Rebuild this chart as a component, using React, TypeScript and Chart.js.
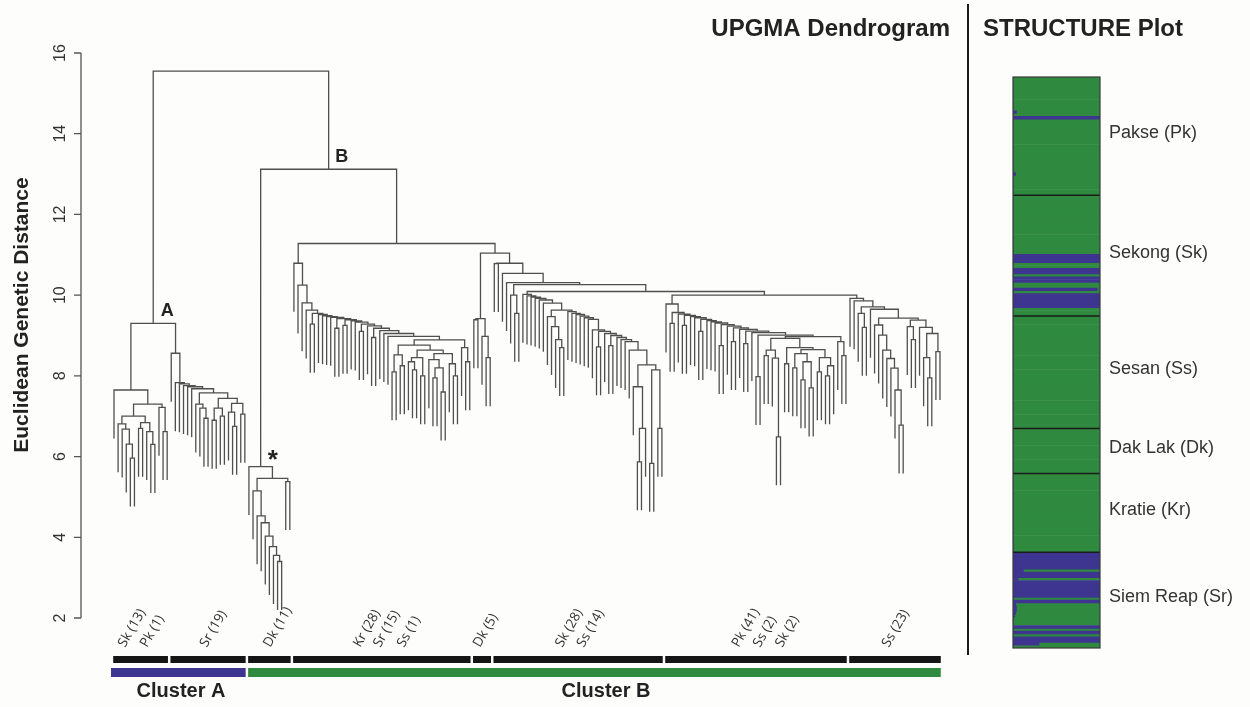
import React, { useEffect, useRef } from 'react';
import { Chart, registerables } from 'chart.js';
Chart.register(...registerables);

const FONT = '"Liberation Sans", Arial, Helvetica, sans-serif';
const LEAF_FONT = '"Open Sans", "Liberation Sans", sans-serif';

// ---------- Dendrogram data: merge height between consecutive leaves (leaf order) ----------
const gapsSkPk = [7.65, 6.81, 6.68, 6.31, 5.96, 7.0, 6.7, 6.84, 6.62, 6.3, 7.3, 7.22, 6.62];
const gapsSr19 = [8.56, 7.83, 7.8, 7.76, 7.73, 7.68, 7.3, 7.2, 6.95, 7.58, 6.9, 7.2, 7.0, 7.44, 7.1, 6.75, 7.32, 7.05];
const gapsDk11 = [5.75, 5.15, 4.53, 4.36, 4.03, 3.77, 3.55, 3.4, 5.46, 5.38];
const gapsKrSrSs = [10.79, 10.25, 9.81, 9.63, 9.28, 9.55, 9.52, 9.49, 9.47, 9.45, 9.18, 9.42, 9.25, 9.39, 9.36, 9.33, 9.1, 9.28, 9.24, 8.95, 9.18, 9.12, 9.05, 8.98,
  8.1, 8.52, 8.25, 8.76, 8.35, 8.15, 8.45, 8.0, 8.64, 8.4, 7.95, 8.2, 7.6, 8.55, 8.3, 8.0, 8.89, 8.7, 8.35];
const gapsDk5 = [9.39, 9.42, 8.98, 8.45];
const gapsSkSs = [10.78, 10.79, 10.54, 10.31, 10.0, 9.55, 10.26,
  10.02, 9.98, 9.95, 9.92, 9.88, 9.8, 9.47, 9.22, 8.9, 8.7, 9.63, 9.59, 9.55, 9.52, 9.48, 9.44, 9.4,
  9.14, 8.72, 9.1, 9.05, 8.75, 9.0, 8.95, 8.9, 8.85, 8.64, 7.73, 5.87, 6.7, 8.27, 5.83, 8.15, 6.7];
const gapsPk = [9.78, 9.3, 9.57, 9.53, 9.25, 9.5, 9.47, 9.44, 9.1, 9.4, 9.37, 9.34, 9.31, 8.75, 9.27, 9.23, 8.85, 9.19, 9.15, 8.8, 9.11, 9.07, 7.98, 9.01,
  8.5, 8.64, 8.44, 6.49, 8.93, 8.3, 8.7, 8.2, 8.55, 7.9, 8.35, 7.7, 8.65, 8.1, 8.45, 8.0, 8.25, 8.97, 8.85, 8.5];
const gapsSs23 = [9.92, 9.86, 9.55, 9.2, 9.71, 9.65, 9.26, 9.01, 8.64, 8.43, 8.19, 7.65, 6.78, 9.43, 9.22, 8.9, 9.38, 9.2, 8.45, 7.95, 9.05, 8.6];
const groupJoins = [9.3, 15.55, 13.12, 11.28, 11.04, 10.09, 10.0];
const hang = 1.2;
const yTicks = [2, 4, 6, 8, 10, 12, 14, 16];
const leafLabels = ['Sk (13)', 'Pk (1)', 'Sr (19)', 'Dk (11)', 'Kr (28)', 'Sr (15)', 'Ss (1)', 'Dk (5)', 'Sk (28)', 'Ss (14)', 'Pk (41)', 'Ss (2)', 'Sk (2)', 'Ss (23)'];

// ---------- STRUCTURE plot data (blue membership per individual) ----------
const populations = ['Pakse (Pk)', 'Sekong (Sk)', 'Sesan (Ss)', 'Dak Lak (Dk)', 'Kratie (Kr)', 'Siem Reap (Sr)'];
const pkBlue = [0, 0, 0, 0, 0, 0, 0, 0, 0, 0, 0, 0, 0.04, 0, 1, 0, 0, 0, 0, 0, 0, 0, 0, 0, 0, 0, 0, 0, 0, 0, 0, 0, 0, 0, 0.03, 0, 0, 0, 0, 0, 0, 0];
const skBlue = [0, 0, 0, 0, 0, 0, 0, 0, 0, 0, 0, 0, 0, 0, 0, 0, 0, 0, 0, 0, 0, 1, 1, 1, 0, 0, 1, 1, 0, 1, 1, 0, 0, 0.97, 0, 1, 1, 1, 1, 1, 0, 0, 0];
const ssBlue = [0, 0, 0, 0, 0, 0, 0, 0, 0, 0, 0, 0, 0, 0, 0, 0, 0, 0, 0, 0, 0, 0, 0, 0, 0, 0, 0, 0, 0, 0, 0, 0, 0, 0, 0, 0, 0, 0, 0, 0];
const dkBlue = [0, 0, 0, 0, 0, 0, 0, 0, 0, 0, 0, 0, 0, 0, 0, 0];
const krBlue = [0, 0, 0, 0, 0, 0, 0, 0, 0, 0, 0, 0, 0, 0, 0, 0, 0, 0, 0, 0, 0, 0, 0, 0, 0, 0, 0, 0];
const srBlue = [1, 1, 1, 1, 1, 1, 0.12, 1, 1, 0.06, 1, 1, 1, 1, 1, 1, 0, 1, 0.03, 0.04, 0.04, 0.03, 0.02, 0, 0, 0, 1, 0, 1, 0, 1, 1, 0.3, 0];

// ---------- layout constants ----------
const LEAF_X0 = 114;      // pixel of first leaf
const LEAF_DX = 4.089;    // pixel per leaf
const labelLeafPos = [2.7, 8.1, 22.7, 38.2, 60.2, 65.1, 70.9, 89.5, 109.6, 114.9, 152.8, 158, 163.4, 189.5];
const GREEN = '#2f8a3f';
const BLUE = '#3d3590';
const LINE = '#4f4f4f';

type TNode = { x: number; h: number | null; left?: TNode; right?: TNode };

function buildTree() {
  const groups = [gapsSkPk, gapsSr19, gapsDk11, gapsKrSrSs, gapsDk5, gapsSkSs, gapsPk, gapsSs23];
  const gaps: number[] = [];
  const starts: number[] = [];
  let leaf = 0;
  groups.forEach((g, i) => {
    starts.push(leaf);
    gaps.push(...g);
    leaf += g.length + 1;
    if (i < groupJoins.length) gaps.push(groupJoins[i]);
  });
  const counts = groups.map((g) => g.length + 1);
  const pts: { x: number; y: number | null }[] = [];
  const build = (lo: number, hi: number): TNode => {
    if (lo === hi) return { x: lo, h: null };
    let k = lo;
    for (let i = lo; i < hi; i++) if (gaps[i] > gaps[k]) k = i;
    const L = build(lo, k);
    const R = build(k + 1, hi);
    const H = gaps[k];
    const lb = L.h === null ? H - hang : L.h;
    const rb = R.h === null ? H - hang : R.h;
    pts.push({ x: L.x, y: lb }, { x: L.x, y: H }, { x: R.x, y: H }, { x: R.x, y: rb }, { x: R.x, y: null });
    return { x: (L.x + R.x) / 2, h: H, left: L, right: R };
  };
  const root = build(0, gaps.length);
  return { root, pts, starts, counts, n: gaps.length + 1 };
}

export default function App() {
  const c1 = useRef<HTMLCanvasElement>(null);
  const c2 = useRef<HTMLCanvasElement>(null);

  useEffect(() => {
    const { root, pts, starts, counts } = buildTree();
    const nodeA = root.left!;
    const nodeB = root.right!;
    const nodeStar = nodeB.left!;
    const xmin = (81 - LEAF_X0) / LEAF_DX;
    const xmax = (960 - LEAF_X0) / LEAF_DX;

    const dendroPlugin = {
      id: 'dendroDecor',
      afterDraw(chart: any) {
        const ctx = chart.ctx as CanvasRenderingContext2D;
        const xs = chart.scales.x;
        const ys = chart.scales.y;
        const axX = chart.chartArea.left;
        ctx.save();
        // y axis
        ctx.strokeStyle = '#555';
        ctx.lineWidth = 1.3;
        ctx.beginPath();
        ctx.moveTo(axX, ys.getPixelForValue(2));
        ctx.lineTo(axX, ys.getPixelForValue(16));
        yTicks.forEach((t) => {
          const y = ys.getPixelForValue(t);
          ctx.moveTo(axX, y);
          ctx.lineTo(axX - 7, y);
        });
        ctx.stroke();
        ctx.fillStyle = '#333';
        ctx.font = `16px ${FONT}`;
        ctx.textAlign = 'center';
        ctx.textBaseline = 'middle';
        yTicks.forEach((t) => {
          ctx.save();
          ctx.translate(61, ys.getPixelForValue(t));
          ctx.rotate(-Math.PI / 2);
          ctx.fillText(String(t), 0, 0);
          ctx.restore();
        });
        // axis title
        ctx.save();
        ctx.translate(22, 315);
        ctx.rotate(-Math.PI / 2);
        ctx.font = `bold 21px ${FONT}`;
        ctx.fillStyle = '#222';
        ctx.fillText('Euclidean Genetic Distance', 0, 0);
        ctx.restore();
        // node labels
        ctx.fillStyle = '#222';
        ctx.font = `bold 18px ${FONT}`;
        ctx.fillText('A', xs.getPixelForValue(nodeA.x) + 14, ys.getPixelForValue(nodeA.h!) - 12);
        ctx.fillText('B', xs.getPixelForValue(nodeB.x) + 13, ys.getPixelForValue(nodeB.h!) - 12);
        ctx.font = `bold 26px ${FONT}`;
        ctx.fillText('*', xs.getPixelForValue(nodeStar.x) + 12, ys.getPixelForValue(nodeStar.h!) - 6);
        // leaf group labels
        ctx.font = `13.5px ${LEAF_FONT}`;
        ctx.fillStyle = '#333';
        ctx.textAlign = 'left';
        ctx.textBaseline = 'alphabetic';
        leafLabels.forEach((lab, i) => {
          ctx.save();
          ctx.translate(xs.getPixelForValue(labelLeafPos[i]), 648);
          ctx.rotate(-Math.PI / 3);
          ctx.fillText(lab, 0, 0);
          ctx.restore();
        });
        // black group bars
        ctx.fillStyle = '#151515';
        starts.forEach((s, i) => {
          const x0 = xs.getPixelForValue(s) - 0.8;
          const x1 = xs.getPixelForValue(s + counts[i] - 1) + 0.8;
          ctx.fillRect(x0, 656, x1 - x0, 7);
        });
        // cluster bars
        const clA0 = xs.getPixelForValue(starts[0]) - 3;
        const clA1 = xs.getPixelForValue(starts[1] + counts[1] - 1) + 0.8;
        const clB0 = xs.getPixelForValue(starts[2]) - 0.8;
        const clB1 = xs.getPixelForValue(starts[7] + counts[7] - 1) + 0.8;
        ctx.fillStyle = BLUE;
        ctx.fillRect(clA0, 668, clA1 - clA0, 9);
        ctx.fillStyle = GREEN;
        ctx.fillRect(clB0, 668, clB1 - clB0, 9);
        ctx.fillStyle = '#222';
        ctx.font = `bold 20px ${FONT}`;
        ctx.textAlign = 'center';
        ctx.textBaseline = 'middle';
        ctx.fillText('Cluster A', 181, 691);
        ctx.fillText('Cluster B', 606, 691);
        // title & separator
        ctx.font = `bold 24px ${FONT}`;
        ctx.textAlign = 'right';
        ctx.fillText('UPGMA Dendrogram', 950, 29);
        ctx.strokeStyle = '#1a1a1a';
        ctx.lineWidth = 2;
        ctx.beginPath();
        ctx.moveTo(968, 4);
        ctx.lineTo(968, 655);
        ctx.stroke();
        ctx.restore();
      },
    };

    const chart1 = new Chart(c1.current!, {
      type: 'scatter',
      data: {
        datasets: [
          {
            data: pts as any,
            showLine: true,
            spanGaps: false,
            borderColor: LINE,
            borderWidth: 1.3,
            pointRadius: 0,
            borderCapStyle: 'butt',
            borderJoinStyle: 'miter',
          } as any,
        ],
      },
      options: {
        responsive: false,
        animation: false,
        events: [],
        layout: { padding: { left: 81, right: 290, top: 53, bottom: 89 } },
        plugins: { legend: { display: false }, tooltip: { enabled: false } },
        scales: {
          x: { type: 'linear', min: xmin, max: xmax, display: false },
          y: { type: 'linear', min: 2, max: 16, display: false },
        },
      },
      plugins: [dendroPlugin],
    });

    // STRUCTURE plot
    const popArrays = [pkBlue, skBlue, ssBlue, dkBlue, krBlue, srBlue];
    const blue: number[] = [];
    const popStart: number[] = [];
    popArrays.forEach((a) => {
      popStart.push(blue.length);
      blue.push(...a);
    });
    const green = blue.map((v) => 1 - v);
    const labels = blue.map((_, i) => String(i));

    const structPlugin = {
      id: 'structDecor',
      afterDraw(chart: any) {
        const ctx = chart.ctx as CanvasRenderingContext2D;
        const ys = chart.scales.y;
        const area = chart.chartArea;
        ctx.save();
        const edge = (i: number) => (ys.getPixelForValue(i - 1) + ys.getPixelForValue(i)) / 2;
        ctx.strokeStyle = '#1a1a1a';
        ctx.lineWidth = 1.5;
        popStart.slice(1).forEach((s) => {
          const y = edge(s);
          ctx.beginPath();
          ctx.moveTo(area.left, y);
          ctx.lineTo(area.right, y);
          ctx.stroke();
        });
        ctx.strokeStyle = '#3a3a3a';
        ctx.lineWidth = 1.2;
        ctx.strokeRect(area.left, area.top, area.right - area.left, area.bottom - area.top);
        ctx.fillStyle = '#333';
        ctx.font = `18px ${FONT}`;
        ctx.textAlign = 'left';
        ctx.textBaseline = 'middle';
        populations.forEach((p, i) => {
          const a = popStart[i];
          const b = a + popArrays[i].length - 1;
          const yc = (ys.getPixelForValue(a) + ys.getPixelForValue(b)) / 2 - 3;
          ctx.fillText(p, 1109, yc);
        });
        ctx.fillStyle = '#222';
        ctx.font = `bold 24px ${FONT}`;
        ctx.fillText('STRUCTURE Plot', 983, 29);
        ctx.restore();
      },
    };

    const chart2 = new Chart(c2.current!, {
      type: 'bar',
      data: {
        labels,
        datasets: [
          { data: blue, backgroundColor: BLUE, borderWidth: 0, barPercentage: 1, categoryPercentage: 1 },
          { data: green, backgroundColor: GREEN, borderWidth: 0, barPercentage: 1, categoryPercentage: 1 },
        ],
      },
      options: {
        indexAxis: 'y',
        responsive: false,
        animation: false,
        events: [],
        layout: { padding: { left: 1013, right: 150, top: 77, bottom: 59 } },
        plugins: { legend: { display: false }, tooltip: { enabled: false } },
        scales: {
          x: { stacked: true, min: 0, max: 1, display: false },
          y: { stacked: true, display: false },
        },
      },
      plugins: [structPlugin],
    });

    return () => {
      chart1.destroy();
      chart2.destroy();
    };
  }, []);

  return (
    <div style={{ position: 'fixed', left: 0, top: 0, width: 1250, height: 707, background: '#fdfdfb', overflow: 'hidden' }}>
      <canvas ref={c1} width={1250} height={707} style={{ position: 'absolute', left: 0, top: 0, width: 1250, height: 707 }} />
      <canvas ref={c2} width={1250} height={707} style={{ position: 'absolute', left: 0, top: 0, width: 1250, height: 707 }} />
    </div>
  );
}
